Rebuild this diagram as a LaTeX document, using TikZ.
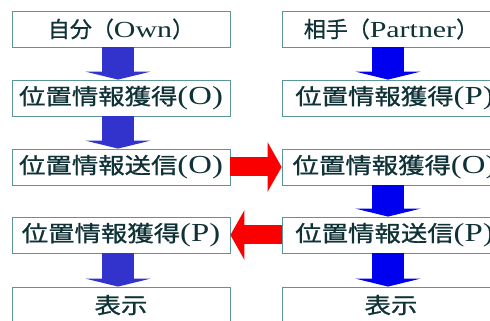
\documentclass[tikz,border=0pt]{standalone}
\usepackage{fontspec}
\setmainfont{Liberation Serif}
\newfontfamily\jp{Noto Sans CJK JP}[FakeBold=0.8]
\usetikzlibrary{arrows.meta}
\definecolor{boxline}{RGB}{90,150,150}
\definecolor{txt}{RGB}{15,50,55}
\definecolor{lblue}{RGB}{50,50,205}
\definecolor{rblue}{RGB}{0,0,240}
\definecolor{rred}{RGB}{250,0,0}
% row texts: CJK part + Latin part, whole line widened
\newcommand{\rowtxt}[2]{\scalebox{1.2}[1]{{\jp\fontsize{22}{22}\selectfont #1}\scalebox{1.05}[1]{\fontsize{26}{26}\selectfont #2}}}
\newcommand{\toptxt}[2]{{\jp\fontsize{22}{22}\selectfont #1（}\scalebox{1.3}[1]{\fontsize{23}{23}\selectfont #2}{\jp\fontsize{22}{22}\selectfont ）}}
\begin{document}
\begin{tikzpicture}[x=1pt,y=1pt,
  box/.style={draw=boxline, line width=0.8pt, minimum width=218pt, minimum height=36pt, inner sep=0pt, text=txt, fill=white},
  down/.style={line width=32pt, -{Triangle[width=65pt,length=8pt]}},
  side/.style={rred, line width=19pt, -{Triangle[width=49pt,length=14pt]}}]
\useasboundingbox (0,0) rectangle (490,321);
\clip (0,0) rectangle (490,321);
\fill[white] (0,0) rectangle (490,321);
% left column
\node[box] (l1) at (121,292) {\toptxt{自分}{Own}};
\node[box] (l2) at (121,223) {\rowtxt{位置情報獲得}{(O)}};
\node[box] (l3) at (121,154) {\rowtxt{位置情報送信}{(O)}};
\node[box] (l4) at (121,86) {\rowtxt{位置情報獲得}{(P)}};
\node[box] (l5) at (121,16) {\rowtxt{表示}{}};
% right column
\node[box] (r1) at (391,292) {\toptxt{相手}{Partner}};
\node[box] (r2) at (391,223) {\hspace*{7pt}\rowtxt{位置情報獲得}{(P)}};
\node[box] (r3) at (391,154) {\hspace*{7pt}\rowtxt{位置情報獲得}{(O)}};
\node[box] (r4) at (391,86) {\hspace*{7pt}\rowtxt{位置情報送信}{(P)}};
\node[box] (r5) at (391,16) {\rowtxt{表示}{}};
% blue arrows
\foreach \a/\b in {l1/l2, l2/l3, l4/l5}
  \draw[down, lblue] ([xshift=-3pt]\a.south) -- ([xshift=-3pt]\b.north);
\foreach \a/\b in {r1/r2, r3/r4, r4/r5}
  \draw[down, rblue] ([xshift=-3pt]\a.south) -- ([xshift=-3pt]\b.north);
% red arrows
\draw[side] (l3.east) -- (r3.west);
\draw[side] (r4.west) -- (l4.east);
\end{tikzpicture}
\end{document}
